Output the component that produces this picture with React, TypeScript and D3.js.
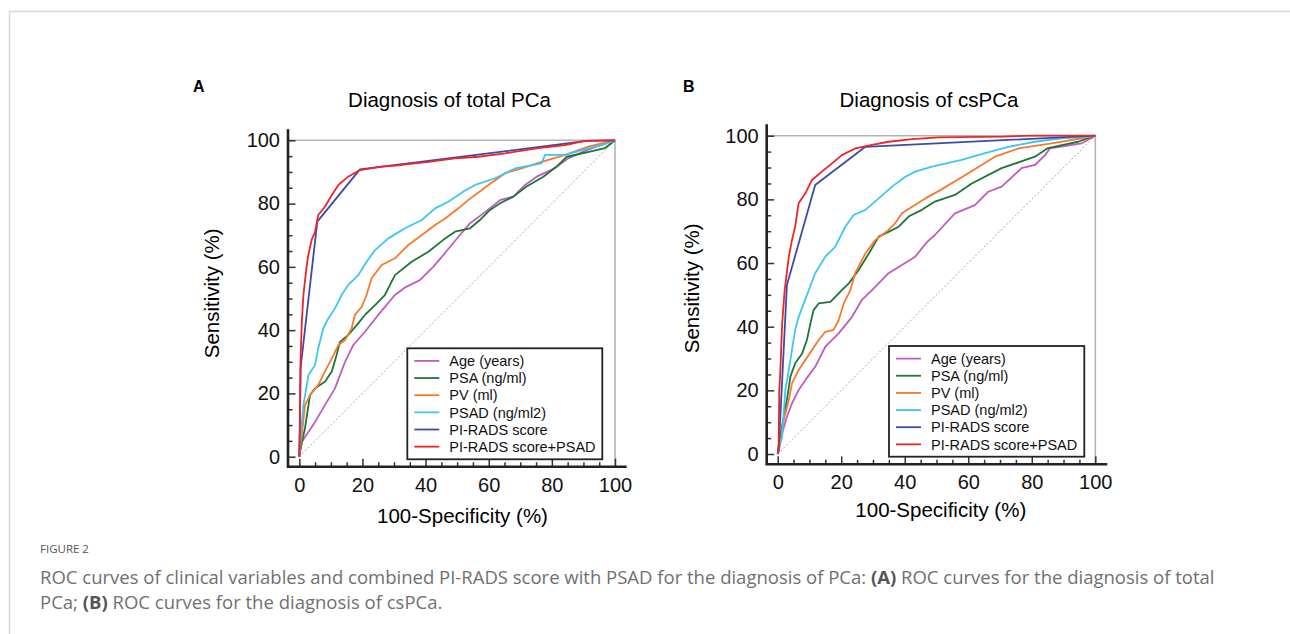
import { useEffect, useRef } from 'react';
import * as d3 from 'd3';

type Pt = [number, number];

// legend entries, same order in both panels
const seriesNames = ['Age (years)', 'PSA (ng/ml)', 'PV (ml)', 'PSAD (ng/ml2)', 'PI-RADS score', 'PI-RADS score+PSAD'];
const seriesColors = ['#bf5cbf', '#1f7436', '#f47a2c', '#3ec6f3', '#3b4ca6', '#ee2426'];

const majorTicks = [0, 20, 40, 60, 80, 100];
const minorTicks = [5, 10, 15, 25, 30, 35, 45, 50, 55, 65, 70, 75, 85, 90, 95];

// Panel A: total PCa  (100-specificity %, sensitivity %)
const ageA: Pt[] = [[0, 0], [0.8, 4.7], [2.3, 6.9], [5, 11], [8.1, 16.3], [11.3, 21.6], [14.5, 30], [17.1, 35.3], [20.8, 39.5], [25, 44.8], [30.3, 51.1], [33.5, 53.5], [38.2, 55.8], [42.4, 60], [46.1, 64.3], [50.4, 69.5], [54.1, 73.8], [58.3, 76.9], [63.6, 81.1], [67.8, 82.2], [71.5, 85.9], [75.2, 88.5], [81, 91.2], [85.2, 94.3], [90, 96.4], [95.2, 98.5], [100, 100]];
const psaA: Pt[] = [[0, 0], [0.2, 1.6], [1.8, 9], [3.4, 19.5], [5, 21.6], [8.1, 23.7], [10.3, 26.9], [11.8, 32.1], [12.9, 36.3], [15.5, 38.5], [18.2, 41.6], [20.8, 44.8], [24, 47.9], [27.1, 51.1], [30.3, 57.4], [35.6, 61.6], [40.9, 64.8], [46.2, 69], [49.3, 71.1], [54.1, 72.2], [57.2, 74.8], [60.4, 78], [63.6, 80.1], [67.8, 82.2], [72, 85.4], [77.3, 88.5], [81.5, 91.7], [84.7, 94.8], [92.1, 96.4], [96.8, 97.5], [100, 100]];
const pvA: Pt[] = [[0, 0], [0.8, 6.9], [1.8, 16.3], [3.4, 19.5], [6, 22.7], [8.1, 26.9], [10.3, 31.1], [12.4, 35.3], [14.5, 36.9], [16.6, 40.6], [17.6, 44.8], [19.8, 47.4], [21.3, 51.1], [22.9, 56.4], [26.1, 60.6], [30.3, 62.7], [34.5, 66.9], [38.8, 70.1], [43, 73.2], [46.2, 75.3], [50.4, 78.5], [53.5, 81.1], [59.9, 85.9], [65.2, 89.6], [70.4, 91.1], [76.8, 93.2], [84.2, 95.4], [91.6, 98], [95.8, 99], [100, 100]];
const psadA: Pt[] = [[0, 0], [0.2, 3.7], [1.3, 16.3], [2.9, 25.8], [5, 29], [6, 34.3], [7.6, 40.6], [9.2, 43.7], [11.3, 46.9], [13.4, 51.1], [15.5, 54.3], [18.7, 57.4], [21.3, 61.6], [24, 65.3], [28.2, 69], [33.5, 72.2], [38.8, 74.8], [43, 78.5], [47.2, 80.6], [52, 83.8], [55.7, 85.9], [62, 88], [68.3, 91.1], [76.8, 92.7], [77.8, 95.4], [84.2, 95.4], [89.5, 96.9], [95.8, 98.5], [100, 100]];
const piradsA: Pt[] = [[0, 0], [0.4, 28], [5.7, 74.3], [19.2, 90.8], [91, 99.8], [100, 100]];
const comboA: Pt[] = [[0, 0], [0.2, 9], [0.4, 31.1], [0.8, 42.7], [1.3, 51.1], [2.3, 60], [2.9, 64], [3.9, 68.5], [5, 71.1], [6, 76.4], [8.1, 79], [10.3, 82.7], [12.4, 85.9], [15.5, 88.5], [19.2, 90.6], [26.1, 91.7], [32.4, 92.2], [40.9, 93.2], [49.3, 94.3], [56.7, 94.8], [65.2, 95.9], [75.7, 97.5], [84.2, 98.5], [90.5, 99.8], [100, 100]];

// Panel B: csPCa
const ageB: Pt[] = [[0, 0], [1.4, 6.5], [2.9, 11.7], [4.5, 15.9], [6.6, 20.1], [8.7, 23.2], [11.8, 27.4], [15, 33.7], [19.2, 37.9], [23.4, 43.1], [26.5, 48.4], [29.7, 51.5], [34.9, 56.8], [43.3, 62], [46.9, 66.5], [49.5, 68.8], [55.8, 75.6], [62.1, 78.2], [66.3, 82.4], [70.5, 84], [76.8, 89.8], [81, 90.8], [84.2, 93.9], [85.7, 96], [95.7, 97.6], [100, 100]];
const psaB: Pt[] = [[0, 0], [0.8, 5.4], [1.9, 11.7], [2.9, 17], [4, 24.3], [5.5, 28.5], [7.7, 31.6], [9.2, 35.8], [10.3, 41], [11.3, 45.2], [12.9, 47.3], [16.6, 47.8], [20.2, 51.5], [22.4, 53.6], [25.5, 57.8], [28.7, 63], [31.8, 68.3], [34.9, 69.8], [38.1, 71.4], [41.2, 74.6], [45.4, 76.7], [49.5, 79.3], [55.8, 81.4], [61.1, 85], [70.5, 89.8], [81, 93.4], [85.1, 96.1], [94.6, 98.1], [98.9, 99.7], [100, 100]];
const pvB: Pt[] = [[0, 0], [0.8, 3.4], [1.9, 10.7], [3.5, 17], [4.5, 22.2], [6.6, 26.4], [8.7, 29.5], [10.8, 32.7], [12.9, 35.8], [15, 38.4], [17.6, 39], [19.2, 42.1], [20.8, 47.3], [22.9, 51.5], [24.4, 56.8], [27.6, 63], [30.7, 67.2], [34.9, 70.4], [37, 72.5], [39.1, 75.6], [42.3, 77.7], [46.5, 80.3], [51.2, 82.9], [60, 88.2], [68.4, 93.4], [75.8, 96], [86.3, 97.6], [95.7, 99.2], [100, 100]];
const psadB: Pt[] = [[0, 0], [1.4, 5.4], [2.4, 20.1], [3.5, 26.4], [4.5, 32.7], [5.5, 39], [6.6, 43.1], [8.2, 47.3], [9.8, 51.5], [11.8, 56.8], [15, 62], [18.1, 65.1], [21.3, 71.4], [23.9, 75.1], [27.6, 76.7], [31.8, 80.3], [36, 84], [40.2, 87.1], [43.3, 88.7], [48.6, 90.3], [57.9, 92.4], [65.3, 94.5], [72.6, 96.5], [81, 98.1], [89.4, 99.2], [97.8, 99.7], [100, 100]];
const piradsB: Pt[] = [[0, 0], [0.3, 1], [2.9, 53.1], [11.8, 84.5], [27.6, 96.5], [100, 100]];
const comboB: Pt[] = [[0, 0], [0.3, 3.4], [0.5, 20.1], [0.8, 25.4], [1.4, 41], [2.2, 51.5], [3.5, 62], [4.5, 67.2], [5.5, 71.4], [6.6, 78.8], [8.7, 81.9], [10.8, 86.1], [13.9, 88.7], [17.1, 91.3], [20.2, 93.9], [24.4, 96], [29.7, 97.1], [34.9, 98.1], [42.3, 98.9], [50.7, 99.5], [71, 99.7], [79.4, 100], [100, 100]];

const panels = [
  {
    letter: 'A', title: 'Diagnosis of total PCa', curves: [ageA, psaA, pvA, psadA, piradsA, comboA],
    x0: 299.3, x1: 615, y0: 456.7, y1: 140.3, axisX: 288, axisY: 466.7, axisTop: 129.3, axisRight: 626.7,
    legend: { x: 407.3, y: 348.3, w: 195, h: 111 },
    letterX: 193, titleX: 449.5, xTitleX: 462.5, xTitleY: 522.7, yTitleX: 219, yTitleY: 293.3,
  },
  {
    letter: 'B', title: 'Diagnosis of csPCa', curves: [ageB, psaB, pvB, psadB, piradsB, comboB],
    x0: 777.7, x1: 1095.3, y0: 454, y1: 135.7, axisX: 766.7, axisY: 464.3, axisTop: 124.3, axisRight: 1107.3,
    legend: { x: 889, y: 346, w: 195.3, h: 110.7 },
    letterX: 683, titleX: 929, xTitleX: 940.8, xTitleY: 516.7, yTitleX: 699, yTitleY: 288.3,
  },
];

const font = "'Liberation Sans', Arial, sans-serif";

export default function App() {
  const svgRef = useRef<SVGSVGElement>(null);

  useEffect(() => {
    if (!svgRef.current) return;
    const svg = d3.select(svgRef.current);
    svg.selectAll('*').remove();

    svg.append('rect').attr('width', 1290).attr('height', 634).attr('fill', '#fff');
    // figure frame (top + left edges only visible)
    svg.append('path')
      .attr('d', 'M9.5,634V11.5H1290')
      .attr('fill', 'none')
      .attr('stroke', '#d8d8d8')
      .attr('stroke-width', 1.5);

    panels.forEach(p => {
      const x = d3.scaleLinear().domain([0, 100]).range([p.x0, p.x1]);
      const y = d3.scaleLinear().domain([0, 100]).range([p.y0, p.y1]);
      const g = svg.append('g').style('font-family', font);

      // chance diagonal
      g.append('line')
        .attr('x1', x(0)).attr('y1', y(0))
        .attr('x2', x(100)).attr('y2', y(100))
        .attr('stroke', '#aaa')
        .attr('stroke-width', 1)
        .attr('stroke-dasharray', '2,2');

      // light grey frame at 100 / 100
      g.append('path')
        .attr('d', `M${p.axisX},${y(100)}H${x(100)}V${p.axisY}`)
        .attr('fill', 'none')
        .attr('stroke', '#b4b4b4')
        .attr('stroke-width', 1.6);

      // curves
      const line = d3.line<Pt>().x(d => x(d[0])).y(d => y(d[1]));
      p.curves.forEach((c, i) => {
        g.append('path')
          .datum(c)
          .attr('fill', 'none')
          .attr('stroke', seriesColors[i])
          .attr('stroke-width', 1.8)
          .attr('stroke-linejoin', 'round')
          .attr('d', line);
      });

      // Y axis
      const yMinor = g.append('g')
        .attr('transform', `translate(${p.axisX},0)`)
        .call(d3.axisLeft(y).tickValues(minorTicks).tickSize(-4.5).tickFormat(() => ''));
      const yMajor = g.append('g')
        .attr('transform', `translate(${p.axisX},0)`)
        .call(d3.axisLeft(y).tickValues(majorTicks).tickSize(-7.5).tickPadding(8).tickFormat(d3.format('d')));
      // X axis
      const xMinor = g.append('g')
        .attr('transform', `translate(0,${p.axisY})`)
        .call(d3.axisBottom(x).tickValues(minorTicks).tickSize(-4.5).tickFormat(() => ''));
      const xMajor = g.append('g')
        .attr('transform', `translate(0,${p.axisY})`)
        .call(d3.axisBottom(x).tickValues(majorTicks).tickSize(-8).tickPadding(11).tickFormat(d3.format('d')));

      [yMinor, yMajor, xMinor, xMajor].forEach(a => {
        a.select('.domain').remove();
        a.selectAll('.tick line').attr('stroke', '#333').attr('stroke-width', 1.5);
        a.selectAll('text')
          .attr('fill', '#111')
          .style('font-family', font)
          .style('font-size', '20px');
      });

      // axis lines
      g.append('path')
        .attr('d', `M${p.axisX},${p.axisTop}V${p.axisY}H${p.axisRight}`)
        .attr('fill', 'none')
        .attr('stroke', '#222')
        .attr('stroke-width', 2.6);

      // titles
      g.append('text')
        .attr('x', p.letterX).attr('y', 92)
        .style('font-size', '16px').style('font-weight', 'bold')
        .text(p.letter);
      g.append('text')
        .attr('x', p.titleX).attr('y', 107.3)
        .attr('text-anchor', 'middle')
        .style('font-size', '20.5px')
        .text(p.title);
      g.append('text')
        .attr('x', p.xTitleX).attr('y', p.xTitleY)
        .attr('text-anchor', 'middle')
        .style('font-size', '20.5px')
        .text('100-Specificity (%)');
      g.append('text')
        .attr('transform', `translate(${p.yTitleX},${p.yTitleY}) rotate(-90)`)
        .attr('text-anchor', 'middle')
        .style('font-size', '20.5px')
        .text('Sensitivity (%)');

      // legend
      const lg = g.append('g').attr('transform', `translate(${p.legend.x},${p.legend.y})`);
      lg.append('rect')
        .attr('width', p.legend.w).attr('height', p.legend.h)
        .attr('fill', '#fff')
        .attr('stroke', '#222')
        .attr('stroke-width', 1.8);
      seriesNames.forEach((name, i) => {
        const cy = 12.6 + i * 17.15;
        lg.append('line')
          .attr('x1', 7).attr('x2', 32)
          .attr('y1', cy).attr('y2', cy)
          .attr('stroke', seriesColors[i])
          .attr('stroke-width', 1.8);
        lg.append('text')
          .attr('x', 42).attr('y', cy)
          .attr('dy', '0.36em')
          .style('font-size', '14.5px')
          .attr('fill', '#111')
          .text(name);
      });
    });

    // caption
    const cap = svg.append('g').style('font-family', "'Open Sans', 'Noto Sans', sans-serif").attr('fill', '#707070');
    cap.append('text')
      .attr('x', 40).attr('y', 553)
      .style('font-size', '11.5px')
      .attr('fill', '#555')
      .text('FIGURE 2');
    const l1 = cap.append('text').attr('x', 40).attr('y', 584).style('font-size', '18.5px');
    l1.append('tspan').text('ROC curves of clinical variables and combined PI-RADS score with PSAD for the diagnosis of PCa: ');
    l1.append('tspan').style('font-weight', 'bold').attr('fill', '#555').text('(A)');
    l1.append('tspan').text(' ROC curves for the diagnosis of total');
    const l2 = cap.append('text').attr('x', 40).attr('y', 609).style('font-size', '18.5px');
    l2.append('tspan').text('PCa; ');
    l2.append('tspan').style('font-weight', 'bold').attr('fill', '#555').text('(B)');
    l2.append('tspan').text(' ROC curves for the diagnosis of csPCa.');
  }, []);

  return (
    <svg
      ref={svgRef}
      width={1290}
      height={634}
      style={{ position: 'absolute', left: 0, top: 0, display: 'block' }}
    />
  );
}
